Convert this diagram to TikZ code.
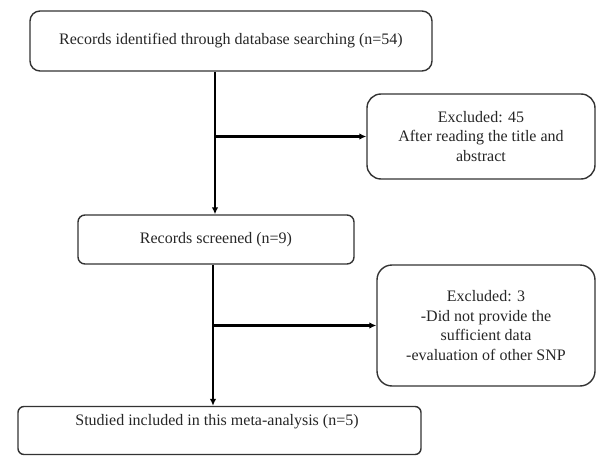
\documentclass[tikz,border=0pt]{standalone}
\usepackage{fontspec}
\setmainfont{Liberation Serif}
\usetikzlibrary{arrows.meta}
\begin{document}
\begin{tikzpicture}[x=1pt,y=-1pt,
  box/.style={draw=black!80, line width=1.4pt, inner sep=0pt, align=center, font=\fontsize{16}{19.5}\selectfont, text=black!85},
  lbl/.style={inner sep=0pt, align=center, font=\fontsize{16}{19.5}\selectfont, text=black!85},
  arr/.style={line width=2.2pt, -{Latex[length=7pt,width=6.5pt]}}]
\useasboundingbox (0,0) rectangle (606,458);
\node[box, rounded corners=10pt, minimum width=402pt, minimum height=60pt] (b1) at (231,41) {Records identified through database searching (n=54)};
\node[box, rounded corners=14pt, minimum width=228pt, minimum height=85pt] (e1) at (481,136.5) {Excluded: 45\\After reading the title and\\abstract};
\node[box, rounded corners=7pt, minimum width=276pt, minimum height=49pt] (b2) at (216,239.5) {Records screened (n=9)};
\node[box, rounded corners=15pt, minimum width=218pt, minimum height=121pt] (e2) at (486,325.5) {Excluded: 3\\-Did not provide the\\sufficient data\\-evaluation of other SNP};
\node[box, rounded corners=6pt, minimum width=403pt, minimum height=48pt] (b3) at (219.5,430.5) {};
\node[lbl] (b3t) at (217,422) {Studied included in this meta-analysis (n=5)};
\coordinate (v1) at (215,0);
\coordinate (v2) at (213,0);
\draw[arr] (b1.south -| v1) -- (b2.north -| v1);
\draw[arr] (v1 |- e1.west) -- (e1.west);
\draw[arr] (b2.south -| v2) -- (b3.north -| v2);
\draw[arr] (v2 |- e2.west) -- (e2.west);
\end{tikzpicture}
\end{document}
